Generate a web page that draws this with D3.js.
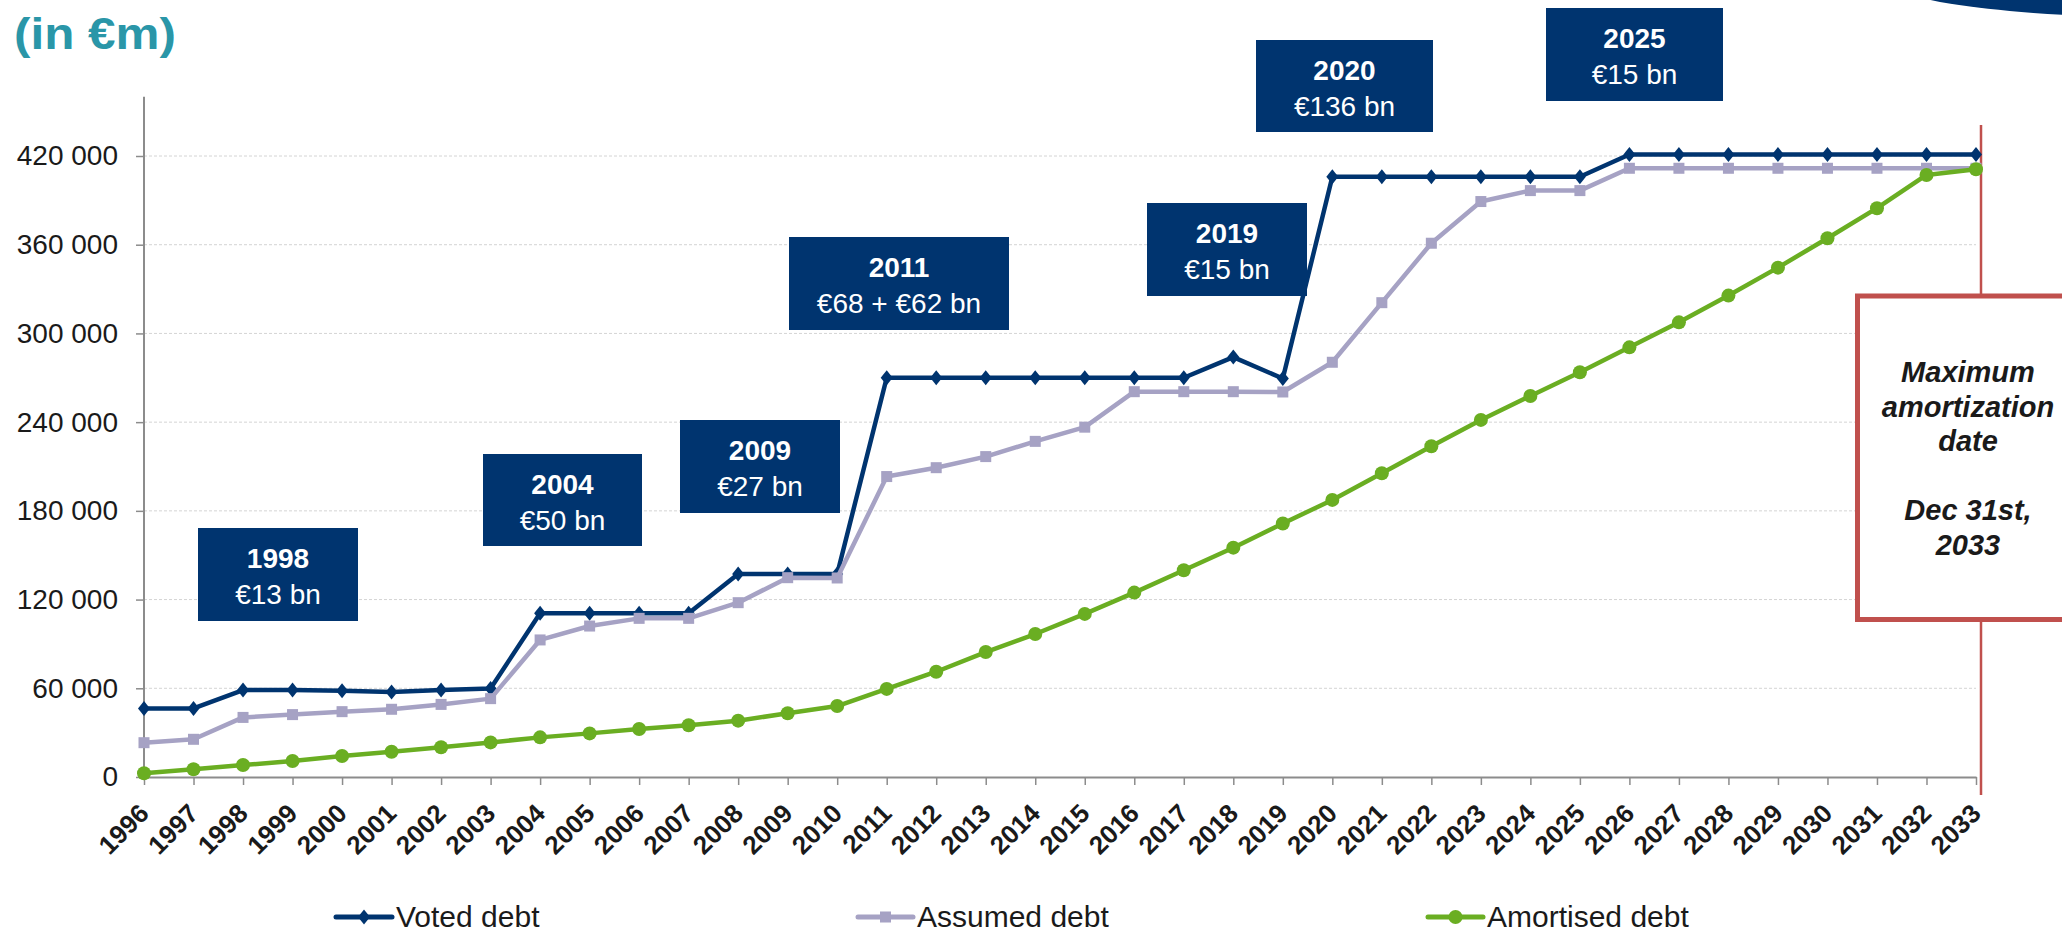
<!DOCTYPE html>
<html>
<head>
<meta charset="utf-8">
<script src="https://cdn.jsdelivr.net/npm/d3@7"></script>
<style>
  html, body { margin: 0; padding: 0; background: #fff; }
  svg { display: block; }
  text { font-family: "Liberation Sans", Arial, sans-serif; }
</style>
</head>
<body>
<svg id="chart" width="2062" height="932"></svg>
<script>
// ---------- DATA ----------
const years = ["1996","1997","1998","1999","2000","2001","2002","2003","2004","2005",
  "2006","2007","2008","2009","2010","2011","2012","2013","2014","2015","2016","2017",
  "2018","2019","2020","2021","2022","2023","2024","2025","2026","2027","2028","2029",
  "2030","2031","2032","2033"];

const votedDebt = [46400, 46400, 58800, 58800, 58400, 57500, 58800, 59900, 110700, 110700,
  110700, 110700, 137300, 137300, 137300, 270000, 270000, 270000, 270000, 270000, 270000, 270000,
  284000, 269500, 406000, 406000, 406000, 406000, 406000, 406000, 421000, 421000, 421000, 421000,
  421000, 421000, 421000, 421000];

const assumedDebt = [23200, 25500, 40300, 42200, 44200, 45800, 49100, 53000, 92700, 102100,
  107300, 107300, 117900, 134800, 134600, 203200, 209200, 216700, 227000, 236600, 260600, 260600,
  260600, 260400, 280500, 320800, 361000, 389200, 396600, 396600, 411700, 411700, 411700, 411700,
  411700, 411700, 411700, 411700];

const amortisedDebt = [2500, 5200, 8100, 10800, 14200, 17100, 20100, 23400, 26800, 29500,
  32500, 35000, 38100, 43100, 48000, 59600, 71200, 84500, 96700, 110300, 124700, 139800,
  155100, 171400, 187400, 205400, 223700, 241500, 257700, 273700, 290600, 307500, 325600, 344500,
  364400, 384700, 407200, 411000];

const seriesNames = ["Voted debt", "Assumed debt", "Amortised debt"];
const yTicks = [0, 60000, 120000, 180000, 240000, 300000, 360000, 420000];

const annoYears = ["1998", "2004", "2009", "2011", "2019", "2020", "2025"];
const annoAmounts = ["€13 bn", "€50 bn", "€27 bn", "€68 + €62 bn", "€15 bn", "€136 bn", "€15 bn"];

const titleText = "(in €m)";
const noteLines = ["Maximum", "amortization", "date", "", "Dec 31st,", "2033"];

// ---------- LAYOUT ----------
const annoBoxes = [
  {x: 198, y: 528, w: 160, h: 93},
  {x: 483, y: 454, w: 159, h: 92},
  {x: 680, y: 420, w: 160, h: 93},
  {x: 789, y: 237, w: 220, h: 93},
  {x: 1147, y: 203, w: 160, h: 93},
  {x: 1256, y: 40, w: 177, h: 92},
  {x: 1546, y: 8, w: 177, h: 93}
];

const C = {
  voted: "#00346F",
  assumed: "#A6A2C4",
  amort: "#6AAE22",
  box: "#00346F",
  red: "#C0504D",
  axis: "#8c8c8c",
  grid: "#d4d4d4",
  text: "#1a1a1a",
  teal: "#2A96A8"
};

const svg = d3.select("#chart");

const x = d3.scalePoint().domain(years).range([144, 1976]);
const y = d3.scaleLinear().domain([0, 420000]).range([777, 156]);

// top-right decorative ellipse
svg.append("ellipse")
  .attr("cx", 2200).attr("cy", -14.5).attr("rx", 300).attr("ry", 33)
  .attr("fill", C.box);

// title
svg.append("text")
  .attr("x", 14).attr("y", 49)
  .attr("textLength", 162).attr("lengthAdjust", "spacingAndGlyphs")
  .attr("font-size", 44).attr("font-weight", "bold")
  .attr("fill", C.teal)
  .text(titleText);

// gridlines
svg.append("g").selectAll("line")
  .data(yTicks.filter(d => d > 0))
  .join("line")
  .attr("x1", 144).attr("x2", 1976)
  .attr("y1", d => y(d)).attr("y2", d => y(d))
  .attr("stroke", C.grid).attr("stroke-width", 1)
  .attr("stroke-dasharray", "3,2");

// y axis
const yAxis = d3.axisLeft(y)
  .tickValues(yTicks)
  .tickSize(8)
  .tickPadding(18)
  .tickFormat(d => d3.format(",")(d).replace(/,/g, " "));
const gy = svg.append("g").attr("transform", "translate(144,0)").call(yAxis);
gy.select(".domain").remove();
gy.selectAll(".tick line").attr("stroke", C.axis).attr("stroke-width", 1.5);
gy.selectAll(".tick text")
  .attr("font-family", "'Liberation Sans', Arial, sans-serif")
  .attr("font-size", 28).attr("fill", C.text);
svg.append("line")
  .attr("x1", 144).attr("x2", 144)
  .attr("y1", y(460000)).attr("y2", 777)
  .attr("stroke", C.axis).attr("stroke-width", 2);

// x axis
const xAxis = d3.axisBottom(x).tickSize(8).tickSizeOuter(0).tickFormat(d => d);
const gx = svg.append("g").attr("transform", "translate(0,777)").call(xAxis);
gx.select(".domain").attr("stroke", C.axis).attr("stroke-width", 2);
gx.selectAll(".tick line").attr("stroke", C.axis).attr("stroke-width", 1.5);
gx.selectAll(".tick text")
  .attr("font-family", "'Liberation Sans', Arial, sans-serif")
  .attr("font-size", 26).attr("font-weight", "bold").attr("fill", C.text)
  .attr("text-anchor", "end")
  .attr("dy", null)
  .attr("y", 0)
  .attr("transform", "translate(6,38) rotate(-45)");

// red vertical line (max amortization date)
svg.append("line")
  .attr("x1", 1981).attr("x2", 1981)
  .attr("y1", 125).attr("y2", 795)
  .attr("stroke", C.red).attr("stroke-width", 2.5);

// series lines
const lineGen = d3.line().x((d, i) => x(years[i])).y(d => y(d));

function drawSeries(values, color) {
  svg.append("path")
    .datum(values)
    .attr("d", lineGen)
    .attr("fill", "none")
    .attr("stroke", color)
    .attr("stroke-width", 4.5)
    .attr("stroke-linejoin", "round");
}

const diamond = "M0,-7.5L6,0L0,7.5L-6,0Z";

drawSeries(votedDebt, C.voted);
svg.append("g").selectAll("path")
  .data(votedDebt).join("path")
  .attr("d", diamond)
  .attr("transform", (d, i) => `translate(${x(years[i])},${y(d)})`)
  .attr("fill", C.voted);

drawSeries(assumedDebt, C.assumed);
svg.append("g").selectAll("rect")
  .data(assumedDebt).join("rect")
  .attr("x", (d, i) => x(years[i]) - 5.5)
  .attr("y", d => y(d) - 5.5)
  .attr("width", 11).attr("height", 11)
  .attr("fill", C.assumed);

drawSeries(amortisedDebt, C.amort);
svg.append("g").selectAll("circle")
  .data(amortisedDebt).join("circle")
  .attr("cx", (d, i) => x(years[i]))
  .attr("cy", d => y(d))
  .attr("r", 7)
  .attr("fill", C.amort);

// annotation boxes
const ag = svg.append("g").selectAll("g")
  .data(annoBoxes).join("g");
ag.append("rect")
  .attr("x", d => d.x).attr("y", d => d.y)
  .attr("width", d => d.w).attr("height", d => d.h)
  .attr("fill", C.box);
ag.append("text")
  .attr("x", d => d.x + d.w / 2).attr("y", d => d.y + 40)
  .attr("text-anchor", "middle")
  .attr("font-size", 28).attr("font-weight", "bold").attr("fill", "#fff")
  .text((d, i) => annoYears[i]);
ag.append("text")
  .attr("x", d => d.x + d.w / 2).attr("y", d => d.y + 76)
  .attr("text-anchor", "middle")
  .attr("font-size", 28).attr("fill", "#fff")
  .text((d, i) => annoAmounts[i]);

// red note box
svg.append("rect")
  .attr("x", 1857.5).attr("y", 296)
  .attr("width", 225).attr("height", 323.5)
  .attr("fill", "#fff")
  .attr("stroke", C.red).attr("stroke-width", 5);
svg.append("g").selectAll("text")
  .data(noteLines).join("text")
  .attr("x", 1968)
  .attr("y", (d, i) => 382 + i * 34.6)
  .attr("text-anchor", "middle")
  .attr("font-size", 29).attr("font-weight", "bold").attr("font-style", "italic")
  .attr("fill", C.text)
  .text(d => d);

// legend
const legendItems = [
  {name: seriesNames[0], color: C.voted, x1: 336, x2: 392, tx: 396, marker: "diamond"},
  {name: seriesNames[1], color: C.assumed, x1: 858, x2: 913, tx: 917, marker: "square"},
  {name: seriesNames[2], color: C.amort, x1: 1428, x2: 1483, tx: 1487, marker: "circle"}
];
const LY = 917;
const lg = svg.append("g").selectAll("g").data(legendItems).join("g");
lg.append("line")
  .attr("x1", d => d.x1).attr("x2", d => d.x2)
  .attr("y1", LY).attr("y2", LY)
  .attr("stroke", d => d.color).attr("stroke-width", 5)
  .attr("stroke-linecap", "round");
lg.each(function(d) {
  const g = d3.select(this);
  const cx = (d.x1 + d.x2) / 2;
  if (d.marker === "diamond") {
    g.append("path").attr("d", diamond)
      .attr("transform", `translate(${cx},${LY})`).attr("fill", d.color);
  } else if (d.marker === "square") {
    g.append("rect").attr("x", cx - 5.5).attr("y", LY - 5.5)
      .attr("width", 11).attr("height", 11).attr("fill", d.color);
  } else {
    g.append("circle").attr("cx", cx).attr("cy", LY).attr("r", 7).attr("fill", d.color);
  }
});
lg.append("text")
  .attr("x", d => d.tx).attr("y", 927)
  .attr("font-size", 30).attr("fill", C.text)
  .text(d => d.name);
</script>
</body>
</html>
